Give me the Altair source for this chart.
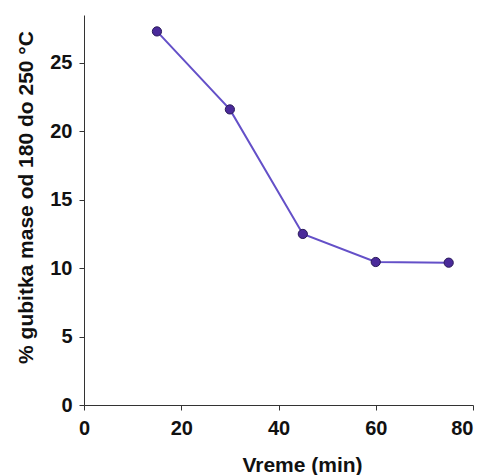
import altair as alt
import pandas as pd

vreme = [15, 30, 45, 60, 75]
gubitak = [27.3, 21.6, 12.5, 10.45, 10.4]

df = pd.DataFrame({"Vreme": vreme, "Gubitak": gubitak})

FONT = "Liberation Sans"

x = alt.X("Vreme:Q", scale=alt.Scale(domain=[0, 80], nice=False),
          axis=alt.Axis(values=[0, 20, 40, 60, 80], title="Vreme (min)",
                        grid=False, domainColor="#333", tickColor="#333",
                        tickSize=5, labelFont=FONT, labelFontSize=20,
                        labelFontWeight="bold", labelColor="#111",
                        labelPadding=8,
                        labelAlign=alt.expr("datum.value == 80 ? 'right' : 'center'"),
                        titleFont=FONT, titleFontSize=21,
                        titleFontWeight="bold", titleColor="#111",
                        titleX=218, titleY=66, titleBaseline="alphabetic",
                        labelOverlap=False, labelFlush=False))
y = alt.Y("Gubitak:Q", scale=alt.Scale(domain=[0, 28.5], nice=False),
          axis=alt.Axis(values=[0, 5, 10, 15, 20, 25],
                        title="% gubitka mase od 180 do 250 °C",
                        grid=False, domainColor="#333", tickColor="#333",
                        tickSize=5, labelFont=FONT, labelFontSize=20,
                        labelFontWeight="bold", labelColor="#111",
                        labelPadding=7, titleFont=FONT, titleFontSize=21,
                        titleFontWeight="bold", titleColor="#111",
                        titleX=-58, titleY=182, titleAngle=270,
                        titleAlign="center", titleBaseline="middle",
                        labelFlush=False))

line = alt.Chart(df).mark_line(color="#6450c8", strokeWidth=2).encode(x=x, y=y)
pts = alt.Chart(df).mark_point(filled=True, size=85, fill="#4a2a9a",
                                stroke="#2a1a5a", strokeWidth=1,
                                opacity=1).encode(x=x, y=y)

chart = (line + pts).properties(
    width=389, height=390,
    autosize=alt.AutoSizeParams(type="none"),
    padding={"left": 84, "top": 15, "right": 8, "bottom": 70},
    background="white",
).configure_view(stroke=None)

chart.save("out.html", embed_options={"renderer": "svg", "actions": False})
